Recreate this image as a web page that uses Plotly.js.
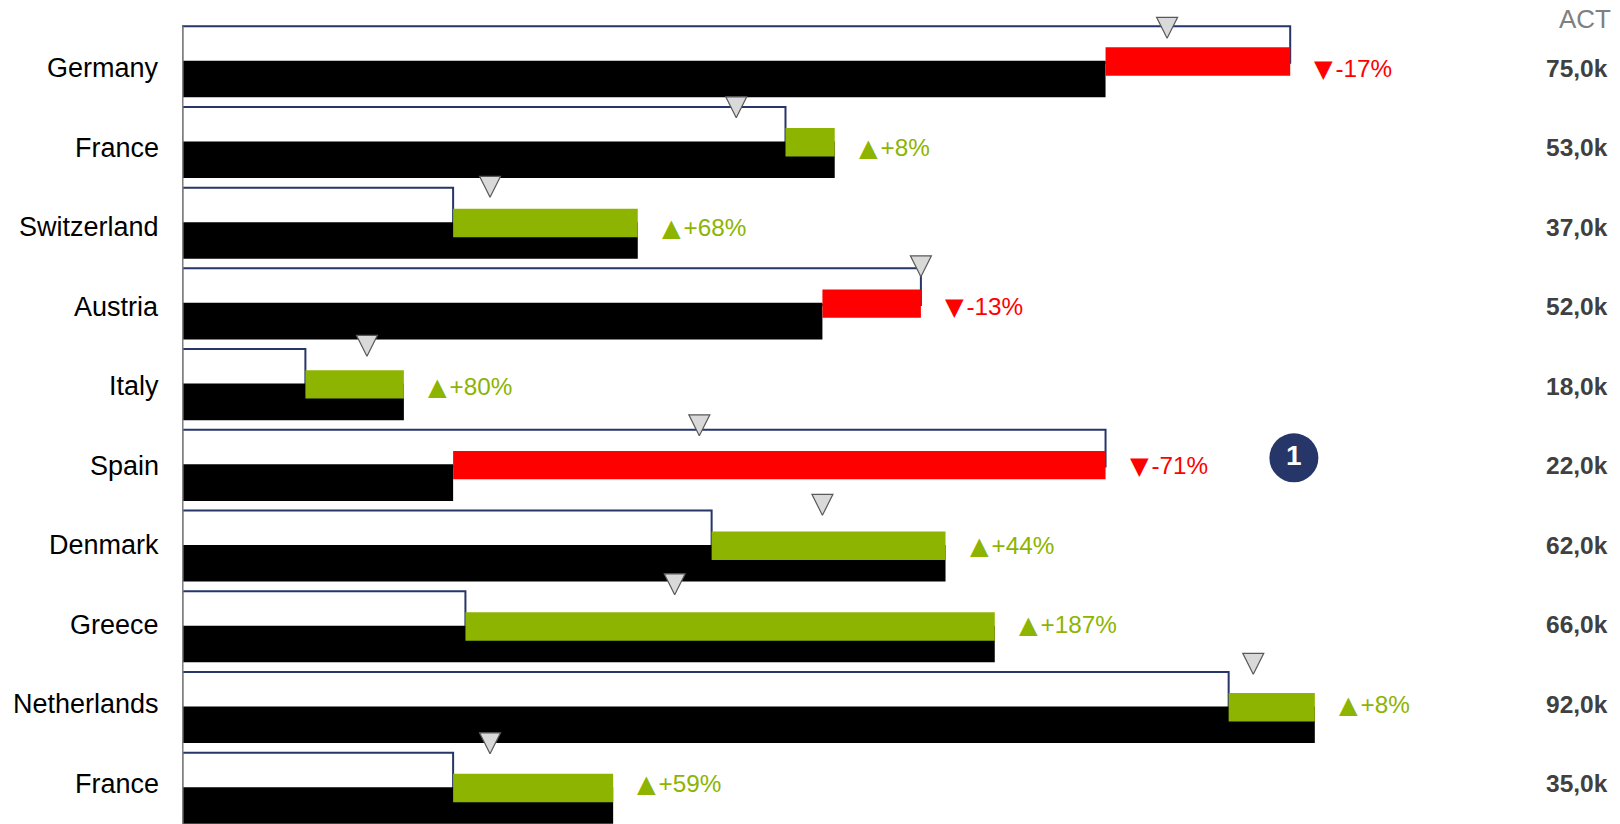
<!DOCTYPE html>
<html>
<head>
<meta charset="utf-8">
<script src="https://cdn.plot.ly/plotly-3.0.1.min.js"></script>
<style>html,body{margin:0;padding:0;background:#fff;}#chart{width:1620px;height:824px;}</style>
</head>
<body>
<div id="chart"></div>
<script>
// ---- data ----
const countries = ['Germany','France','Switzerland','Austria','Italy','Spain','Denmark','Greece','Netherlands','France'];
const actValues = [75, 53, 37, 52, 18, 22, 62, 66, 92, 35];   // ACT (k)
const pyValues  = [90, 49, 22, 60, 10, 75, 43, 23, 85, 22];   // previous year (k)
const planValues = [80, 45, 25, 60, 15, 42, 52, 40, 87, 25];  // plan markers (k)
const headerLabel = 'ACT';
const calloutText = '1';
const calloutRow = 5;       // Spain
const calloutValue = 90.3;  // x position of the callout bubble (k)

// ---- styling / geometry ----
const W = 1620, H = 824;
const FONT = 'Arial, "Liberation Sans", sans-serif';
const NAVY = '#263669';
const GREEN = '#8db400';
const RED = '#ff0000';
const PX_PER_K = 12.31;
const LEFT = 182;
const ROW_PX = 80.72;
const ROW_TOP_PX = 26.2;
const PLAN_PX = 79.5;
const PLAN_TOP_PX = 38.3;

const rows = countries.map((_, i) => i);
const x0 = -0.3 / PX_PER_K;
const x1 = x0 + (W - LEFT) / PX_PER_K;
const yTop = -ROW_TOP_PX / ROW_PX;
const yBottom = yTop + H / ROW_PX;
const y2Top = -PLAN_TOP_PX / PLAN_PX;
const y2Bottom = y2Top + H / PLAN_PX;

const u = px => px / ROW_PX;
const u2 = px => px / PLAN_PX;

const deltaLen = actValues.map((a, i) => Math.abs(a - pyValues[i]));
const deltaBase = actValues.map((a, i) => Math.min(a, pyValues[i]));
const deltaColor = actValues.map((a, i) => a >= pyValues[i] ? GREEN : RED);

const traces = [
  { type: 'bar', orientation: 'h', y: rows, x: pyValues, base: 0,
    offset: 0, width: u(36.6),
    marker: { color: '#ffffff', line: { color: NAVY, width: 2 } },
    hoverinfo: 'skip' },
  { type: 'bar', orientation: 'h', y: rows, x: actValues, base: 0,
    offset: u(34.5), width: u(36.6),
    marker: { color: '#000000', line: { width: 0 } },
    hoverinfo: 'skip' },
  { type: 'bar', orientation: 'h', y: rows, x: deltaLen, base: deltaBase,
    offset: u(21.1), width: u(28.4),
    marker: { color: deltaColor, line: { width: 0 } },
    hoverinfo: 'skip' },
  { type: 'scatter', mode: 'markers', x: planValues, y: rows, yaxis: 'y2',
    marker: { symbol: 'arrow-down', size: 21, color: '#d9d9d9', line: { color: '#595959', width: 1.2 } },
    cliponaxis: false, hoverinfo: 'skip' },
  { type: 'scatter', mode: 'markers+text', x: [calloutValue], y: [calloutRow + u(28)],
    text: [calloutText], textposition: 'middle center',
    textfont: { family: FONT, size: 28, color: '#ffffff', weight: 'bold' },
    marker: { symbol: 'circle', size: 49, color: NAVY },
    cliponaxis: false, hoverinfo: 'skip' }
];

const annotations = [];
const labelOff = u2(29.9);
const TRI = s => '<span style="font-family:\'DejaVu Sans\'">' + s + '</span><span style="font-size:10px"> </span>';
rows.forEach(i => {
  annotations.push({ xref: 'x', yref: 'y2', x: 0, y: i + labelOff, xanchor: 'right', yanchor: 'middle',
    xshift: -21, text: countries[i], showarrow: false,
    font: { family: FONT, size: 27, color: '#000000' } });
  const a = actValues[i], p = pyValues[i];
  const pct = Math.round((a / p - 1) * 100);
  const up = pct >= 0;
  annotations.push({ xref: 'x', yref: 'y2', x: Math.max(a, p), y: i + labelOff, xanchor: 'left', yanchor: 'middle',
    xshift: 22, text: TRI(up ? '▲' : '▼') + (up ? '+' : '') + pct + '%', showarrow: false,
    font: { family: FONT, size: 24.3, color: up ? GREEN : RED } });
  annotations.push({ xref: 'paper', yref: 'y2', x: 1, y: i + labelOff, xanchor: 'right', yanchor: 'middle',
    xshift: -10, text: a.toFixed(1).replace('.', ',') + 'k', showarrow: false,
    font: { family: FONT, size: 24.5, color: '#404040', weight: 'bold' } });
});
annotations.push({ xref: 'paper', yref: 'paper', x: 1, y: 1 - 19 / H, xanchor: 'right', yanchor: 'middle',
  xshift: -7, text: headerLabel, showarrow: false,
  font: { family: FONT, size: 26, color: '#808080' } });

const layout = {
  width: W, height: H,
  margin: { l: LEFT, r: 0, t: 0, b: 0, pad: 0, autoexpand: false },
  paper_bgcolor: '#ffffff', plot_bgcolor: '#ffffff',
  showlegend: false, barmode: 'overlay',
  xaxis: { range: [x0, x1], visible: false, fixedrange: true },
  yaxis: { range: [yBottom, yTop], visible: false, fixedrange: true },
  yaxis2: { range: [y2Bottom, y2Top], overlaying: 'y', visible: false, fixedrange: true },
  shapes: [
    { type: 'line', xref: 'x', yref: 'y', x0: 0, x1: 0, y0: 0, y1: yBottom,
      line: { color: '#808080', width: 2.5 }, layer: 'above' }
  ],
  annotations: annotations
};

Plotly.newPlot('chart', traces, layout, { staticPlot: true, displayModeBar: false });
</script>
</body>
</html>
